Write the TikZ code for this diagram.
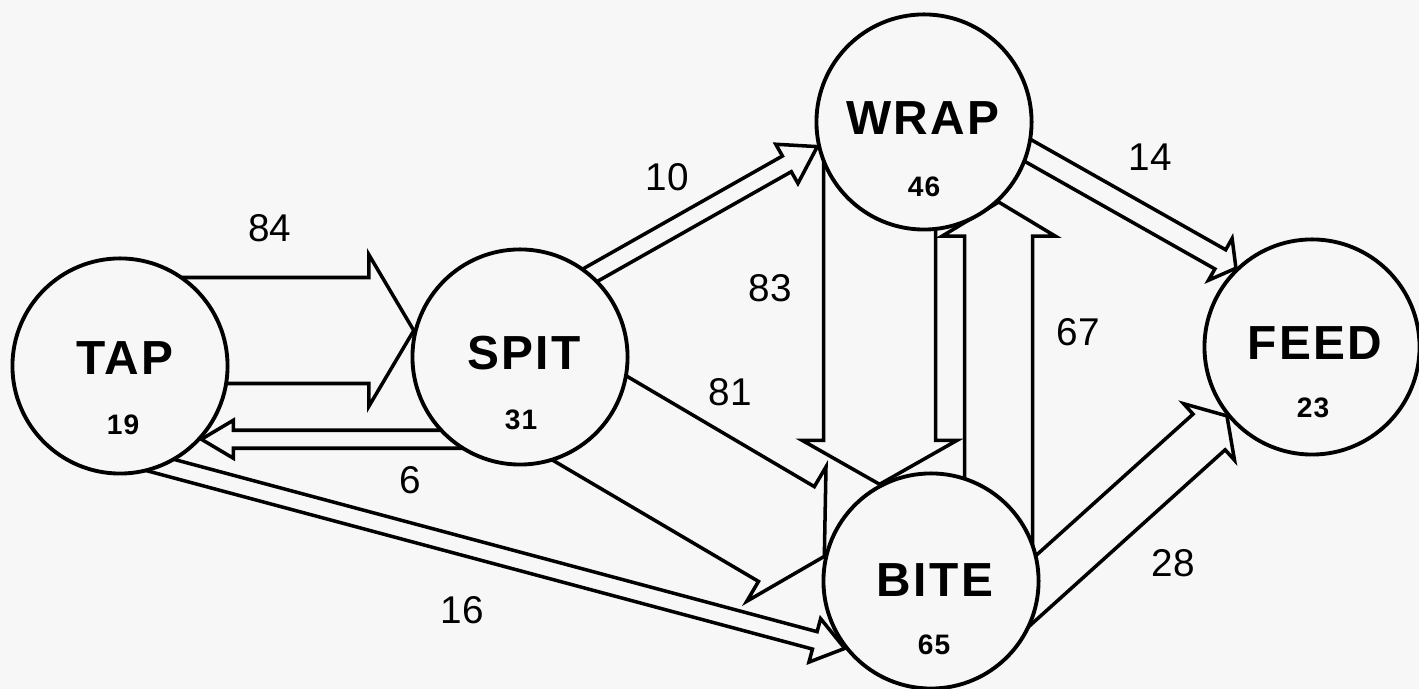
\documentclass[tikz,border=0pt]{standalone}
\usepackage{fontspec}
\setmainfont{Liberation Sans}
\usetikzlibrary{calc,backgrounds}

\definecolor{paper}{RGB}{247,247,247}

\tikzset{
  state/.style={circle,draw,line width=1.1pt,fill=paper,minimum size=2.15cm,inner sep=0pt},
  statename/.style={font=\bfseries\fontsize{13.6}{16}\selectfont\addfontfeature{LetterSpace=5}},
  statecount/.style={font=\bfseries\fontsize{8}{10}\selectfont\addfontfeature{LetterSpace=4}},
  flowval/.style={font=\fontsize{11}{13}\selectfont},
  flow/.style={line width=1pt}
}

% hollow block arrow: source, target, tip angle, direction, shaft, head width, head length
\newcommand{\flowarrow}[7]{
  \coordinate (tip) at (#2.#3);
  \coordinate (base) at ($(tip)+({#4+180}:#7)$);
  \coordinate (tail) at ($(tip)!(#1.center)!(base)$);
  \draw[flow] ($(tail)+({#4+90}:{#5/2})$) -- ($(base)+({#4+90}:{#5/2})$)
    -- ($(base)+({#4+90}:{#6/2})$) -- (tip)
    -- ($(base)+({#4-90}:{#6/2})$) -- ($(base)+({#4-90}:{#5/2})$)
    -- ($(tail)+({#4-90}:{#5/2})$) -- cycle;
}

\begin{document}
\begin{tikzpicture}[x=0.01cm,y=0.01cm]
  \useasboundingbox (0,0) rectangle (1419,689);

  % states
  \node[state] (tap)  at (120,323)  {};
  \node[state] (spit) at (520,332)  {};
  \node[state] (wrap) at (924,567)  {};
  \node[state] (bite) at (931,108)  {};
  \node[state] (feed) at (1312,342) {};

  \node[statename] (tapname)  at (125,331)  {TAP};
  \node[statename] (spitname) at (524,336)  {SPIT};
  \node[statename] (wrapname) at (923,571)  {WRAP};
  \node[statename] (bitename) at (935,109)  {BITE};
  \node[statename] (feedname) at (1315,346) {FEED};

  \node[statecount] (tapcount)  at (123,264)  {19};
  \node[statecount] (spitcount) at (521,269)  {31};
  \node[statecount] (wrapcount) at (924,502)  {46};
  \node[statecount] (bitecount) at (934,44)   {65};
  \node[statecount] (feedcount) at (1313,281) {23};

  % transitions
  \begin{scope}[on background layer]
    \fill[paper] (0,0) rectangle (1419,689);
    \flowarrow{tap}{spit}{166.6}{0}{106}{152}{45}
    \flowarrow{spit}{tap}{-42.5}{180}{18}{38}{32}
    \flowarrow{tap}{bite}{218}{-15}{18}{45}{31}
    \flowarrow{spit}{wrap}{193.8}{29.5}{18}{45}{35}
    \flowarrow{spit}{bite}{167.5}{-30.5}{110}{156}{44}
    \flowarrow{wrap}{bite}{118.5}{-90}{112}{155}{44}
    \flowarrow{bite}{wrap}{-47.5}{90}{68}{113}{34}
    \flowarrow{wrap}{feed}{134}{-29.5}{22}{48}{18}
    \flowarrow{bite}{feed}{219}{42}{48}{76}{24}
  \end{scope}

  % counts on the transitions
  \node[flowval] (v84) at (270,461)  {84};
  \node[flowval] (v6)  at (410,209)  {6};
  \node[flowval] (v16) at (462,79)   {16};
  \node[flowval] (v10) at (667,512)  {10};
  \node[flowval] (v83) at (770,401)  {83};
  \node[flowval] (v81) at (730,297)  {81};
  \node[flowval] (v67) at (1078,357) {67};
  \node[flowval] (v14) at (1150,532) {14};
  \node[flowval] (v28) at (1173,126) {28};
\end{tikzpicture}
\end{document}
